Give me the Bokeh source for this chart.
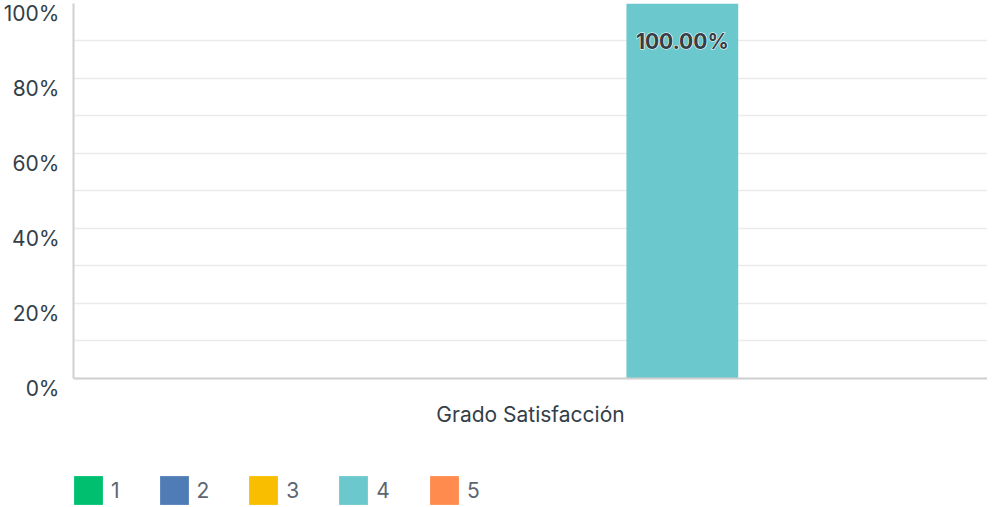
from bokeh.plotting import figure
from bokeh.models import (ColumnDataSource, FactorRange, Range1d, FixedTicker,
                          LabelSet, Legend, LegendItem, LinearAxis, Span)
from bokeh.transform import dodge
from bokeh.core.properties import value
from bokeh.embed import file_html
from bokeh.resources import INLINE

categories = ["Grado Satisfacción"]
series = ["1", "2", "3", "4", "5"]
values = [0.0, 0.0, 0.0, 100.0, 0.0]
colors = ["#00bf6f", "#507cb6", "#f9be00", "#6bc8cd", "#ff8b4f"]
y_ticks = [0, 20, 40, 60, 80, 100]
y_tick_labels = ["0%", "20%", "40%", "60%", "80%", "100%"]
grid_ticks = [0, 10, 20, 30, 40, 50, 60, 70, 80, 90, 100]

FONT = "Inter"
TXT = "#333e48"
AXIS = "#d0d0d0"

# room below 0 (category label + legend live inside the frame)
B = 33.87
# shift so the tick labels sit ~10px under their grid lines
k = 2.8

p = figure(x_range=FactorRange(*categories), y_range=Range1d(-B, 100),
           width=987, height=505,
           output_backend="svg", toolbar_location=None,
           x_axis_location=None, y_axis_location=None,
           min_border_left=63, min_border_right=0, min_border_top=3,
           min_border_bottom=0)
p.extra_y_ranges = {"lab": Range1d(-B + k, 100 + k)}

step = 0.1661
bw = 0.1223
renderers = []
for i, (s, v, c) in enumerate(zip(series, values, colors)):
    off = (i - 2) * step
    src = ColumnDataSource(dict(cat=categories, val=[v]))
    r = p.vbar(x=dodge("cat", off, range=p.x_range), top="val", bottom=0,
               width=bw, source=src, fill_color=c, line_color=None)
    renderers.append(r)
    if v > 0:
        lsrc = ColumnDataSource(dict(cat=categories, val=[v], txt=[f"{v:.2f}%"]))
        for col, outline in (("white", "white"), (TXT, None)):
            p.add_layout(LabelSet(x=dodge("cat", off, range=p.x_range), y="val",
                                  text="txt", source=lsrc, y_offset=-38,
                                  text_align="center", text_baseline="middle",
                                  text_font=value(FONT), text_font_size="21px",
                                  text_font_style="bold", text_color=col,
                                  text_outline_color=outline))

p.xgrid.visible = False
p.ygrid.ticker = FixedTicker(ticks=grid_ticks)
p.ygrid.grid_line_color = "#ebebeb"
p.ygrid.grid_line_width = 1.5
p.outline_line_color = None

# baseline (x axis line at 0)
p.add_layout(Span(location=0, dimension="width", line_color=AXIS, line_width=2))

# category label under the baseline
csrc = ColumnDataSource(dict(cat=categories, y=[0] * len(categories)))
p.add_layout(LabelSet(x="cat", y="y", text="cat", source=csrc, y_offset=-36,
                      text_align="center", text_baseline="middle",
                      text_font=value(FONT), text_font_size="21px",
                      text_color=TXT))

# left axis line from 0 to 100
yline = LinearAxis(ticker=FixedTicker(ticks=[]), bounds=(0, 100),
                   axis_line_color=AXIS, axis_line_width=2,
                   major_tick_line_color=None, minor_tick_line_color=None)
p.add_layout(yline, "left")

# tick labels, drawn on a shifted range so they sit under the grid lines
ylab = LinearAxis(y_range_name="lab", ticker=FixedTicker(ticks=y_ticks),
                  major_label_overrides={t: l for t, l in zip(y_ticks, y_tick_labels)},
                  axis_line_color=None, major_tick_line_color=None,
                  minor_tick_line_color=None, major_label_standoff=8,
                  major_label_text_font=FONT, major_label_text_font_size="21px",
                  major_label_text_color=TXT)
p.add_layout(ylab, "left")

legend = Legend(items=[LegendItem(label=s, renderers=[r]) for s, r in zip(series, renderers)],
                orientation="horizontal", location=(-3, -3),
                glyph_width=36, glyph_height=36, label_standoff=5, spacing=36,
                label_width=0, padding=0, margin=0, border_line_color=None,
                background_fill_alpha=0, label_text_font=FONT,
                label_text_font_size="21px", label_text_color="#5c6670")
p.add_layout(legend, "center")

open("out.html", "w").write(file_html(p, INLINE))
